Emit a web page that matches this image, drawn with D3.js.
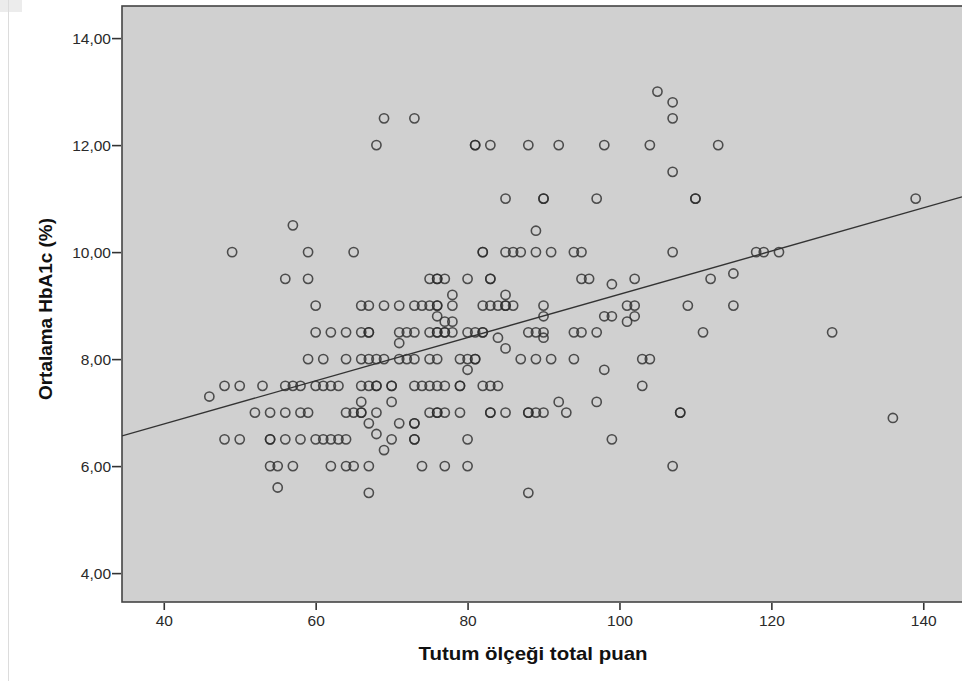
<!DOCTYPE html>
<meta charset="utf-8">
<style>
body { margin: 0; background: #fff; }
.tick text { font-family: "Liberation Sans", Arial, sans-serif; font-size: 15.5px; fill: #2a2a2a; }
.tick line { stroke: #333; stroke-width: 1.6px; }
.title { font-family: "Liberation Sans", Arial, sans-serif; font-size: 19px; font-weight: bold; fill: #111; }
.pt { fill: none; stroke: #2a2a2a; stroke-opacity: 0.8; stroke-width: 1.6px; }
.fit { stroke: #333; stroke-width: 1.4px; }
</style>
<body>
<script src="https://d3js.org/d3.v7.min.js"></script>
<script>

// scores (x) and mean HbA1c (y)
var tutum = [
  48,50,53,56,57,58,60,61,62,63,66,67,68,68,70,70,73,74,75,76,77,79,79,82,83,84,103,
  52,54,56,58,59,64,65,66,66,68,75,76,76,77,79,83,83,85,88,88,89,90,93,108,108,
  48,50,54,54,56,58,60,61,62,63,64,70,73,73,80,99,
  54,55,57,62,64,65,67,74,77,80,107,
  67,88,55,
  46,66,70,92,97,67,71,73,73,68,69,136,80,98,71,84,90,85,76,77,78,90,98,99,102,101,78,85,99,115,89,107,
  59,61,64,66,67,68,69,71,72,73,75,76,79,80,81,81,87,89,91,94,103,104,
  60,62,64,66,67,67,71,72,73,75,76,76,77,77,78,80,81,82,82,88,89,90,94,95,97,111,128,
  60,66,67,69,71,73,74,75,76,76,78,82,83,84,85,85,86,90,101,102,109,115,
  56,59,75,76,76,77,80,83,83,95,96,102,112,
  49,59,65,82,82,85,86,87,89,91,94,95,107,118,119,121,
  57,85,90,90,97,110,110,139,107,
  68,81,81,83,88,92,98,104,113,
  69,73,107,105
];
var hba1c = [
  7.5,7.5,7.5,7.5,7.5,7.5,7.5,7.5,7.5,7.5,7.5,7.5,7.5,7.5,7.5,7.5,7.5,7.5,7.5,7.5,7.5,7.5,7.5,7.5,7.5,7.5,7.5,
  7,7,7,7,7,7,7,7,7,7,7,7,7,7,7,7,7,7,7,7,7,7,7,7,7,
  6.5,6.5,6.5,6.5,6.5,6.5,6.5,6.5,6.5,6.5,6.5,6.5,6.5,6.5,6.5,6.5,
  6,6,6,6,6,6,6,6,6,6,6,
  5.5,5.5,5.6,
  7.3,7.2,7.2,7.2,7.2,6.8,6.8,6.8,6.8,6.6,6.3,6.9,7.8,7.8,8.3,8.4,8.4,8.2,8.8,8.7,8.7,8.8,8.8,8.8,8.8,8.7,9.2,9.2,9.4,9.6,10.4,12.8,
  8,8,8,8,8,8,8,8,8,8,8,8,8,8,8,8,8,8,8,8,8,8,
  8.5,8.5,8.5,8.5,8.5,8.5,8.5,8.5,8.5,8.5,8.5,8.5,8.5,8.5,8.5,8.5,8.5,8.5,8.5,8.5,8.5,8.5,8.5,8.5,8.5,8.5,8.5,
  9,9,9,9,9,9,9,9,9,9,9,9,9,9,9,9,9,9,9,9,9,9,
  9.5,9.5,9.5,9.5,9.5,9.5,9.5,9.5,9.5,9.5,9.5,9.5,9.5,
  10,10,10,10,10,10,10,10,10,10,10,10,10,10,10,10,
  10.5,11,11,11,11,11,11,11,11.5,
  12,12,12,12,12,12,12,12,12,
  12.5,12.5,12.5,13
];

var xTicks = [40, 60, 80, 100, 120, 140];
var yTicks = [4, 6, 8, 10, 12, 14];

// linear fit line as shown in the chart
var fitIntercept = 5.17, fitSlope = 0.0404;

var width = 962, height = 681;
var plot = {left: 122, top: 6, right: 975, bottom: 602};

var x = d3.scaleLinear().domain([34.5, 145.1]).range([plot.left, 962]);
var y = d3.scaleLinear().domain([3.46, 14.6]).range([plot.bottom, plot.top]);

var fmt = function(d) { return d3.format(".2f")(d).replace(".", ","); };

var svg = d3.select("body").append("svg")
    .attr("width", width)
    .attr("height", height);

// window edge remnants
svg.append("rect").attr("x", 0).attr("y", 0).attr("width", 22).attr("height", 12).attr("fill", "#ececec");
svg.append("line").attr("x1", 8.5).attr("x2", 8.5).attr("y1", 0).attr("y2", height)
    .attr("stroke", "#dcdcdc").attr("stroke-width", 1);

// plot background
svg.append("rect")
    .attr("x", plot.left)
    .attr("y", plot.top)
    .attr("width", plot.right - plot.left)
    .attr("height", plot.bottom - plot.top)
    .attr("fill", "#d0d0d0")
    .attr("stroke", "#444")
    .attr("stroke-width", 1.6);

svg.append("clipPath").attr("id", "clip")
  .append("rect")
    .attr("x", plot.left).attr("y", plot.top)
    .attr("width", plot.right - plot.left).attr("height", plot.bottom - plot.top);

// y axis
var gy = svg.append("g")
    .attr("transform", "translate(" + (plot.left - 1) + ",0)")
    .call(d3.axisLeft(y).tickValues(yTicks).tickFormat(fmt).tickSize(9).tickPadding(1));
gy.select(".domain").remove();

// x axis
var gx = svg.append("g")
    .attr("transform", "translate(0," + (plot.bottom + 1) + ")")
    .call(d3.axisBottom(x).tickValues(xTicks).tickFormat(d3.format("d")).tickSize(7).tickPadding(5));
gx.select(".domain").remove();

// points
var pts = tutum.map(function(d, i) { return {x: d, y: hba1c[i]}; });
svg.append("g").attr("clip-path", "url(#clip)")
  .selectAll("circle")
    .data(pts)
  .enter().append("circle")
    .attr("class", "pt")
    .attr("cx", function(d) { return x(d.x); })
    .attr("cy", function(d) { return y(d.y); })
    .attr("r", 4.6);

// fit line
var xd = x.domain();
svg.append("line")
    .attr("class", "fit")
    .attr("clip-path", "url(#clip)")
    .attr("x1", x(xd[0])).attr("y1", y(fitIntercept + fitSlope * xd[0]))
    .attr("x2", x(xd[1])).attr("y2", y(fitIntercept + fitSlope * xd[1]));

// titles
svg.append("text")
    .attr("class", "title")
    .attr("x", 533)
    .attr("y", 660)
    .attr("text-anchor", "middle")
    .attr("textLength", 229)
    .attr("lengthAdjust", "spacingAndGlyphs")
    .text("Tutum ölçeği total puan");

svg.append("text")
    .attr("class", "title")
    .attr("transform", "translate(52,309) rotate(-90)")
    .attr("text-anchor", "middle")
    .attr("textLength", 182)
    .attr("lengthAdjust", "spacingAndGlyphs")
    .text("Ortalama HbA1c (%)");

</script>
</body>
